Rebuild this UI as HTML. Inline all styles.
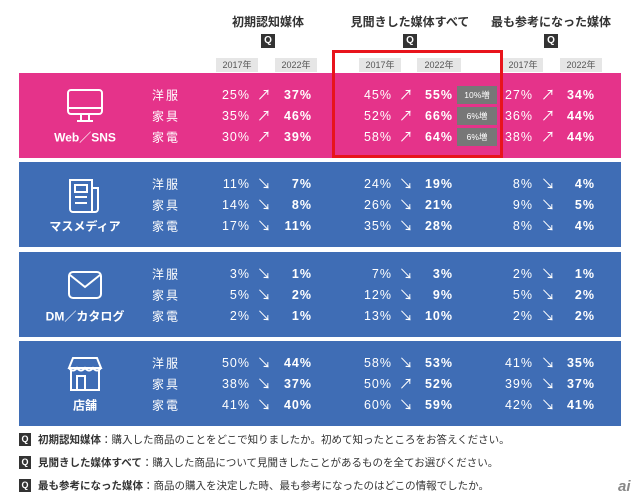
<!DOCTYPE html>
<html><head><meta charset="utf-8"><style>
*{margin:0;padding:0;box-sizing:border-box}
body{width:640px;height:503px;background:#fff;position:relative;overflow:hidden;font-family:"Liberation Sans","Noto Sans CJK JP",sans-serif;color:#333}
.a{position:absolute;white-space:nowrap}
.h{font-size:12px;font-weight:bold;transform:translateX(-50%);top:13px}
.q{width:14px;height:14px;background:#333;color:#fff;font-size:10px;font-weight:bold;text-align:center;line-height:14px}
.yr{top:58px;height:14px;background:#e6e6e6;font-size:9px;color:#555;text-align:center;line-height:14px}
.blk{left:19px;width:602px;height:85px}
.v{color:#fff;font-size:12.5px;letter-spacing:1px;text-align:right;width:40px;transform:translateY(-50%)}
.b{font-weight:bold}
.ar{color:#fff;font-size:14px;transform:translate(-50%,-50%)}
.cat{color:#fff;font-size:12px;letter-spacing:2px;transform:translateY(-50%)}
.lab{color:#fff;font-size:12px;font-weight:bold;transform:translate(-50%,-50%)}
.bd{background:#777;color:#fff;font-size:8.5px;text-align:center;line-height:18px;width:40px;height:18px}
.ft{font-size:10.5px;color:#333}
</style></head><body>
<div class="a h" style="left:268px">初期認知媒体</div>
<div class="a h" style="left:410px">見聞きした媒体すべて</div>
<div class="a h" style="left:551px">最も参考になった媒体</div>
<div class="a q" style="left:261px;top:34px">Q</div>
<div class="a q" style="left:403px;top:34px">Q</div>
<div class="a q" style="left:544px;top:34px">Q</div>
<div class="a yr" style="left:216px;width:42px">2017年</div>
<div class="a yr" style="left:275px;width:42px">2022年</div>
<div class="a yr" style="left:359px;width:42px">2017年</div>
<div class="a yr" style="left:417px;width:44px">2022年</div>
<div class="a yr" style="left:503px;width:40px">2017年</div>
<div class="a yr" style="left:560px;width:42px">2022年</div>

<div class="a blk" style="top:73px;background:#e5338a"></div>
<div class="a blk" style="top:162px;background:#3f6db5"></div>
<div class="a blk" style="top:252px;background:#3f6db5"></div>
<div class="a blk" style="top:341px;background:#3f6db5"></div>

<svg class="a" style="left:66px;top:88px" width="38" height="36" viewBox="0 0 38 36" fill="none" stroke="#fff" stroke-width="2"><rect x="2" y="2" width="34" height="24" rx="3"/><line x1="2" y1="20" x2="36" y2="20"/><path d="M15 26v6M23 26v6M11 33h16"/></svg>
<svg class="a" style="left:67px;top:178px" width="36" height="36" viewBox="0 0 36 36" fill="none" stroke="#fff" stroke-width="2"><path d="M3 2h22v32H6a3 3 0 0 1-3-3z"/><path d="M25 10h6v21a3 3 0 0 1-3 3h-3"/><rect x="8" y="7" width="12" height="7"/><path d="M8 19h12M8 25h12"/></svg>
<svg class="a" style="left:67px;top:270px" width="36" height="30" viewBox="0 0 36 30" fill="none" stroke="#fff" stroke-width="2"><rect x="2" y="2" width="32" height="26" rx="4"/><path d="M3 5l15 12 15-12"/></svg>
<svg class="a" style="left:67px;top:356px" width="36" height="36" viewBox="0 0 36 36" fill="none" stroke="#fff" stroke-width="2"><path d="M6 2h24l4 10H2z"/><path d="M2 12q4 5 8 0q4 5 8 0q4 5 8 0q4 5 8 0"/><path d="M4 14v20h28V14"/><rect x="10" y="20" width="8" height="14"/></svg>
<div class="a lab" style="left:85px;top:137px">Web／SNS</div>
<div class="a lab" style="left:85px;top:226px">マスメディア</div>
<div class="a lab" style="left:85px;top:316px">DM／カタログ</div>
<div class="a lab" style="left:85px;top:405px">店舗</div>

<div id="rows"></div>
<script>
var data=[
[[25,'u',37,45,'u',55,27,'u',34],[35,'u',46,52,'u',66,36,'u',44],[30,'u',39,58,'u',64,38,'u',44]],
[[11,'d',7,24,'d',19,8,'d',4],[14,'d',8,26,'d',21,9,'d',5],[17,'d',11,35,'d',28,8,'d',4]],
[[3,'d',1,7,'d',3,2,'d',1],[5,'d',2,12,'d',9,5,'d',2],[2,'d',1,13,'d',10,2,'d',2]],
[[50,'d',44,58,'d',53,41,'d',35],[38,'d',37,50,'u',52,39,'d',37],[41,'d',40,60,'d',59,42,'d',41]]];
var tops=[73,162,252,341],cats=['洋服','家具','家電'],badges=['10%増','6%増','6%増'];
var cols=[[250,264,312],[392,406,453],[533,548,595]];
var h='';
data.forEach(function(b,bi){b.forEach(function(r,ri){
 var y=tops[bi]+22+ri*21;
 h+='<div class="a cat" style="left:152px;top:'+y+'px">'+cats[ri]+'</div>';
 for(var c=0;c<3;c++){var x=cols[c];
  h+='<div class="a v" style="left:'+(x[0]-40)+'px;top:'+y+'px">'+r[c*3]+'%</div>';
  h+='<div class="a ar" style="left:'+x[1]+'px;top:'+y+'px">'+(r[c*3+1]=='u'?'↗':'↘')+'</div>';
  h+='<div class="a v b" style="left:'+(x[2]-40)+'px;top:'+y+'px">'+r[c*3+2]+'%</div>';
 }
 if(bi==0)h+='<div class="a bd" style="left:457px;top:'+(y-9)+'px">'+badges[ri]+'</div>';
});});
document.getElementById('rows').innerHTML=h;
</script>
<div class="a" style="left:332px;top:50px;width:171px;height:108px;border:3px solid #e8141c"></div>

<div class="a q" style="left:19px;top:433px;font-size:9px;width:12px;height:13px;line-height:13px">Q</div>
<div class="a q" style="left:19px;top:456px;font-size:9px;width:12px;height:13px;line-height:13px">Q</div>
<div class="a q" style="left:19px;top:479px;font-size:9px;width:12px;height:13px;line-height:13px">Q</div>
<div class="a ft" style="left:38px;top:432px"><b>初期認知媒体</b>：購入した商品のことをどこで知りましたか。初めて知ったところをお答えください。</div>
<div class="a ft" style="left:38px;top:455px"><b>見聞きした媒体すべて</b>：購入した商品について見聞きしたことがあるものを全てお選びください。</div>
<div class="a ft" style="left:38px;top:478px"><b>最も参考になった媒体</b>：商品の購入を決定した時、最も参考になったのはどこの情報でしたか。</div>
<div class="a" style="left:618px;top:478px;font-size:15px;font-style:italic;font-weight:bold;color:#888">ai</div>
</body></html>
